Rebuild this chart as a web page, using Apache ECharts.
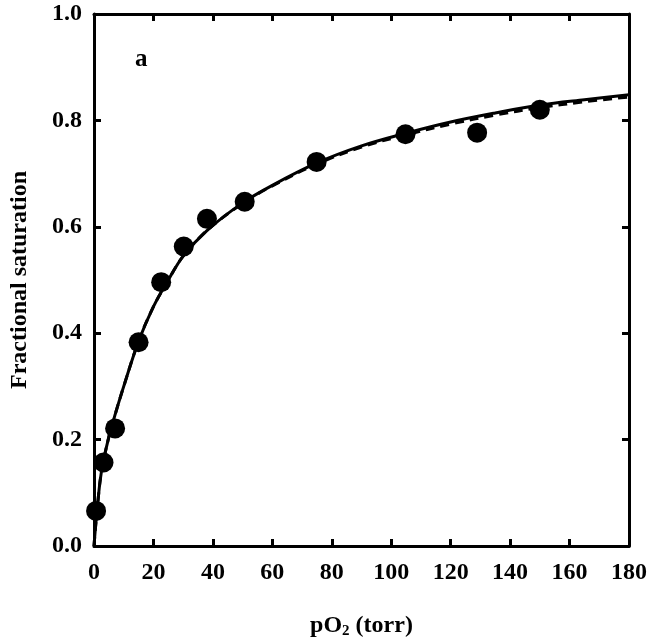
<!DOCTYPE html>
<html>
<head>
<meta charset="utf-8">
<script src="https://cdn.jsdelivr.net/npm/echarts@6/dist/echarts.min.js"></script>
<style>
html,body{margin:0;padding:0;background:#fff;}
#chart{width:654px;height:644px;}
</style>
</head>
<body>
<div id="chart"></div>
<script>
// Measured data points (pO2 in torr, fractional saturation)
var pointX = [0.7, 3.2, 7.1, 15.0, 22.6, 30.2, 38.0, 50.7, 74.9, 104.8, 128.9, 150.0];
var pointY = [0.066, 0.157, 0.221, 0.383, 0.496, 0.563, 0.615, 0.647, 0.722, 0.774, 0.777, 0.820];

// Solid fitted curve
var solidX = [0, 0.5, 1, 2, 3, 5, 7, 10, 15, 20, 25, 30, 38, 50, 60, 75, 90, 105, 120, 135, 150, 165, 180];
var solidY = [0, 0.035, 0.065, 0.12, 0.155, 0.205, 0.245, 0.30, 0.385, 0.45, 0.50, 0.545, 0.593, 0.645, 0.678, 0.72, 0.752, 0.776, 0.797, 0.814, 0.829, 0.839, 0.848];

// Dashed fitted curve
var dashX = [0, 0.5, 1, 2, 3, 5, 7, 10, 15, 20, 25, 30, 38, 50, 60, 75, 90, 105, 120, 135, 150, 165, 180];
var dashY = [0, 0.035, 0.065, 0.12, 0.155, 0.205, 0.245, 0.30, 0.385, 0.45, 0.50, 0.545, 0.593, 0.644, 0.677, 0.718, 0.750, 0.773, 0.793, 0.810, 0.824, 0.835, 0.844];

var xTicks = [0, 20, 40, 60, 80, 100, 120, 140, 160, 180];
var yTicks = [0.0, 0.2, 0.4, 0.6, 0.8, 1.0];

function pairs(xs, ys) { return xs.map(function (x, i) { return [x, ys[i]]; }); }

var FONT = '"Liberation Serif", "Times New Roman", serif';
var chart = echarts.init(document.getElementById('chart'), null, {renderer: 'canvas'});

var axisLine = {show: true, onZero: false, lineStyle: {color: '#000', width: 3}};
var axisTick = {show: true, inside: true, length: 7, lineStyle: {color: '#000', width: 3}};

chart.setOption({
  animation: false,
  backgroundColor: '#fff',
  grid: {left: 92, right: 25, top: 14, bottom: 98, containLabel: false},
  xAxis: [{
    type: 'value', position: 'bottom',
    min: xTicks[0], max: xTicks[xTicks.length - 1], interval: 20,
    axisLine: axisLine, axisTick: axisTick, splitLine: {show: false},
    axisLabel: {margin: 15, color: '#000', fontFamily: FONT, fontWeight: 'bold', fontSize: 24},
    name: '{a|pO}{b|2}{a| (torr)}',
    nameLocation: 'middle', nameGap: 66,
    nameTextStyle: {
      rich: {
        a: {fontFamily: FONT, fontWeight: 'bold', fontSize: 24, color: '#000'},
        b: {fontFamily: FONT, fontWeight: 'bold', fontSize: 15, color: '#000', padding: [12, 0, 0, 0]}
      }
    }
  }, {
    type: 'value', position: 'top',
    min: xTicks[0], max: xTicks[xTicks.length - 1], interval: 20,
    axisLine: axisLine, axisTick: axisTick, splitLine: {show: false},
    axisLabel: {show: false}
  }],
  yAxis: [{
    type: 'value', position: 'left',
    min: yTicks[0], max: yTicks[yTicks.length - 1], interval: 0.2,
    axisLine: axisLine, axisTick: axisTick, splitLine: {show: false},
    axisLabel: {margin: 12, color: '#000', fontFamily: FONT, fontWeight: 'bold', fontSize: 24,
      formatter: function (v) { return v.toFixed(1); }},
    name: 'Fractional saturation',
    nameLocation: 'middle', nameGap: 62,
    nameTextStyle: {fontFamily: FONT, fontWeight: 'bold', fontSize: 24, color: '#000'}
  }, {
    type: 'value', position: 'right',
    min: yTicks[0], max: yTicks[yTicks.length - 1], interval: 0.2,
    axisLine: axisLine, axisTick: axisTick, splitLine: {show: false},
    axisLabel: {show: false}
  }],
  graphic: [{
    type: 'text', left: 135, top: 47,
    style: {text: 'a', fill: '#000', font: 'bold 25px ' + FONT}
  }],
  series: [{
    type: 'line', data: pairs(dashX, dashY), smooth: 0.35, showSymbol: false, symbol: 'none',
    lineStyle: {color: '#000', width: 3, type: [9, 6]}, z: 2
  }, {
    type: 'line', data: pairs(solidX, solidY), smooth: 0.35, showSymbol: false, symbol: 'none',
    lineStyle: {color: '#000', width: 3}, z: 3
  }, {
    type: 'scatter', data: pairs(pointX, pointY), symbol: 'circle', symbolSize: 20,
    itemStyle: {color: '#000', opacity: 1}, z: 4
  }]
});
</script>
</body>
</html>
